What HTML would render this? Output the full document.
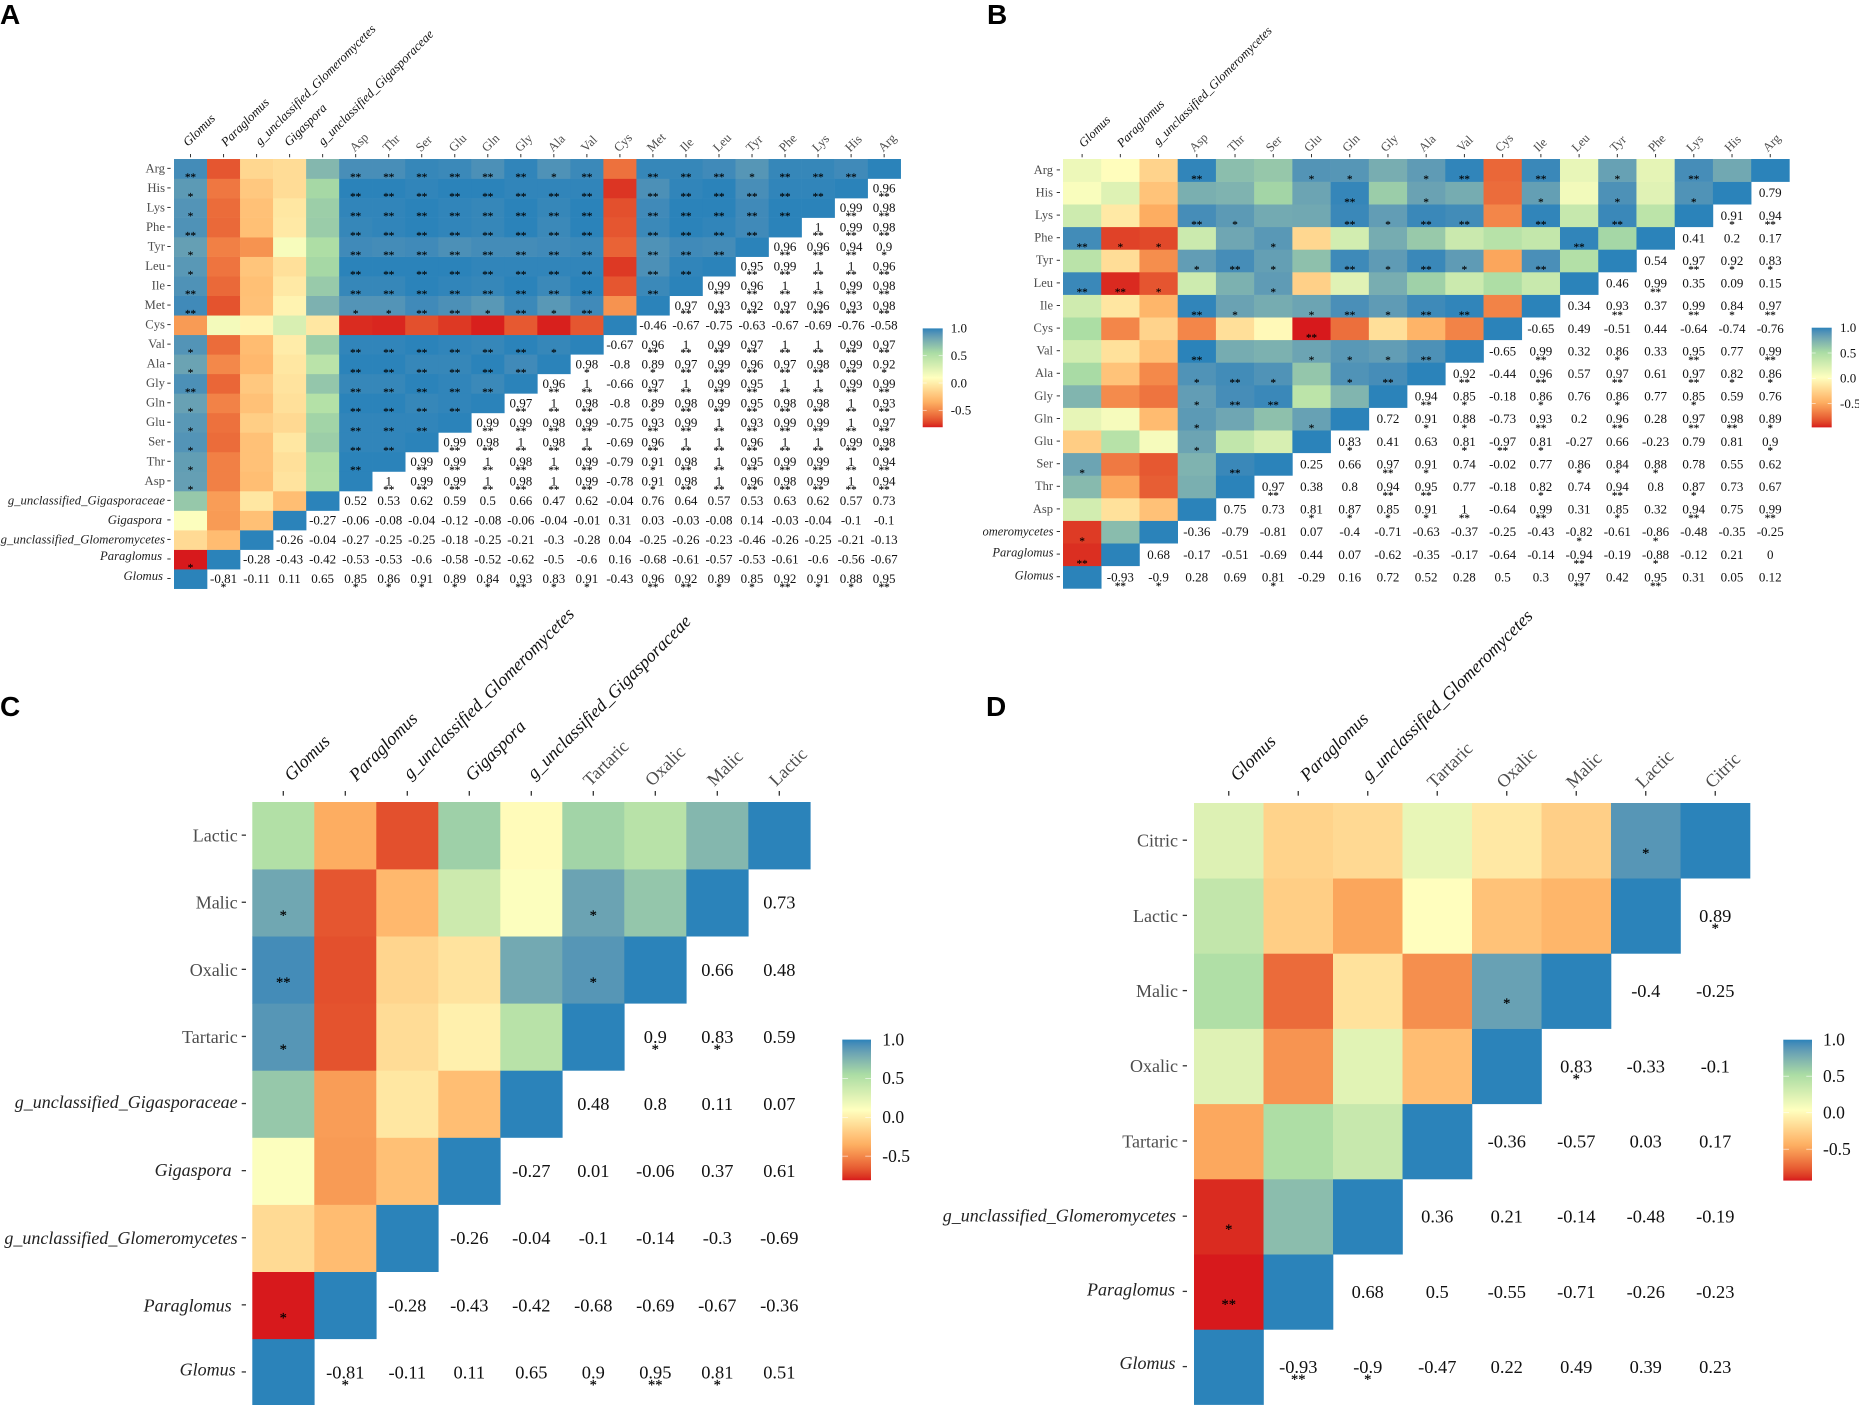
<!DOCTYPE html>
<html lang="en">
<head>
<meta charset="utf-8">
<title>Correlation heatmaps of AMF genera with amino acids and organic acids</title>
<style>
html,body{margin:0;padding:0;background:#fff;width:1859px;height:1405px;overflow:hidden}
svg{display:block}
text{font-family:"Liberation Serif",serif}
.panel-letter{font-family:"Liberation Sans",sans-serif;font-weight:700;fill:#000}
.star{stroke:#000;stroke-width:0.15px;fill:#000}
</style>
</head>
<body>
<svg id="chart" xmlns="http://www.w3.org/2000/svg" width="1859" height="1405" viewBox="0 0 1859 1405"></svg>
<script>
const taxa = ['Glomus','Paraglomus','g_unclassified_Glomeromycetes','Gigaspora','g_unclassified_Gigasporaceae'];
const paletteStops = ['#d7191c','#fdae61','#ffffbf','#abdda4','#2b83ba'];
const legendTicks = [1.0,0.5,0.0,-0.5];
const legendTickLabels = ['1.0','0.5','0.0','-0.5'];

/* Panel A */
const categoriesA = ['Glomus','Paraglomus','g_unclassified_Glomeromycetes','Gigaspora','g_unclassified_Gigasporaceae','Asp','Thr','Ser','Glu','Gln','Gly','Ala','Val','Cys','Met','Ile','Leu','Tyr','Phe','Lys','His','Arg'];
const valuesA = [
[-0.81,-0.11,0.11,0.65,0.85,0.86,0.91,0.89,0.84,0.93,0.83,0.91,-0.43,0.96,0.92,0.89,0.85,0.92,0.91,0.88,0.95],
[-0.28,-0.43,-0.42,-0.53,-0.53,-0.6,-0.58,-0.52,-0.62,-0.5,-0.6,0.16,-0.68,-0.61,-0.57,-0.53,-0.61,-0.6,-0.56,-0.67],
[-0.26,-0.04,-0.27,-0.25,-0.25,-0.18,-0.25,-0.21,-0.3,-0.28,0.04,-0.25,-0.26,-0.23,-0.46,-0.26,-0.25,-0.21,-0.13],
[-0.27,-0.06,-0.08,-0.04,-0.12,-0.08,-0.06,-0.04,-0.01,0.31,0.03,-0.03,-0.08,0.14,-0.03,-0.04,-0.1,-0.1],
[0.52,0.53,0.62,0.59,0.5,0.66,0.47,0.62,-0.04,0.76,0.64,0.57,0.53,0.63,0.62,0.57,0.73],
[1,0.99,0.99,1,0.98,1,0.99,-0.78,0.91,0.98,1,0.96,0.98,0.99,1,0.94],
[0.99,0.99,1,0.98,1,0.99,-0.79,0.91,0.98,1,0.95,0.99,0.99,1,0.94],
[0.99,0.98,1,0.98,1,-0.69,0.96,1,1,0.96,1,1,0.99,0.98],
[0.99,0.99,0.98,0.99,-0.75,0.93,0.99,1,0.93,0.99,0.99,1,0.97],
[0.97,1,0.98,-0.8,0.89,0.98,0.99,0.95,0.98,0.98,1,0.93],
[0.96,1,-0.66,0.97,1,0.99,0.95,1,1,0.99,0.99],
[0.98,-0.8,0.89,0.97,0.99,0.96,0.97,0.98,0.99,0.92],
[-0.67,0.96,1,0.99,0.97,1,1,0.99,0.97],
[-0.46,-0.67,-0.75,-0.63,-0.67,-0.69,-0.76,-0.58],
[0.97,0.93,0.92,0.97,0.96,0.93,0.98],
[0.99,0.96,1,1,0.99,0.98],
[0.95,0.99,1,1,0.96],
[0.96,0.96,0.94,0.9],
[1,0.99,0.98],
[0.99,0.98],
[0.96]
];
const starsA = ['100011111211022112112','','','','','2222222012222222','222222012222222','22222022222222','2222022222222','222012222222','22022222222','1012222221','022222222','','2222222','222222','22222','2221','222','22','2'];

/* Panel B */
const categoriesB = ['Glomus','Paraglomus','g_unclassified_Glomeromycetes','Asp','Thr','Ser','Glu','Gln','Gly','Ala','Val','Cys','Ile','Leu','Tyr','Phe','Lys','His','Arg'];
const valuesB = [
[-0.93,-0.9,0.28,0.69,0.81,-0.29,0.16,0.72,0.52,0.28,0.5,0.3,0.97,0.42,0.95,0.31,0.05,0.12],
[0.68,-0.17,-0.51,-0.69,0.44,0.07,-0.62,-0.35,-0.17,-0.64,-0.14,-0.94,-0.19,-0.88,-0.12,0.21,0],
[-0.36,-0.79,-0.81,0.07,-0.4,-0.71,-0.63,-0.37,-0.25,-0.43,-0.82,-0.61,-0.86,-0.48,-0.35,-0.25],
[0.75,0.73,0.81,0.87,0.85,0.91,1,-0.64,0.99,0.31,0.85,0.32,0.94,0.75,0.99],
[0.97,0.38,0.8,0.94,0.95,0.77,-0.18,0.82,0.74,0.94,0.8,0.87,0.73,0.67],
[0.25,0.66,0.97,0.91,0.74,-0.02,0.77,0.86,0.84,0.88,0.78,0.55,0.62],
[0.83,0.41,0.63,0.81,-0.97,0.81,-0.27,0.66,-0.23,0.79,0.81,0.9],
[0.72,0.91,0.88,-0.73,0.93,0.2,0.96,0.28,0.97,0.98,0.89],
[0.94,0.85,-0.18,0.86,0.76,0.86,0.77,0.85,0.59,0.76],
[0.92,-0.44,0.96,0.57,0.97,0.61,0.97,0.82,0.86],
[-0.65,0.99,0.32,0.86,0.33,0.95,0.77,0.99],
[-0.65,0.49,-0.51,0.44,-0.64,-0.74,-0.76],
[0.34,0.93,0.37,0.99,0.84,0.97],
[0.46,0.99,0.35,0.09,0.15],
[0.54,0.97,0.92,0.83],
[0.41,0.2,0.17],
[0.91,0.94],
[0.79]
];
const starsB = ['210010000000202000','00000000000201000','0000000000101000','001111202010202','20022001020100','0021000111000','100121000001','01102020221','2101010100','202020211','02010202','','020212','02000','0211','','12',''];

/* Panel C */
const categoriesC = ['Glomus','Paraglomus','g_unclassified_Glomeromycetes','Gigaspora','g_unclassified_Gigasporaceae','Tartaric','Oxalic','Malic','Lactic'];
const valuesC = [
[-0.81,-0.11,0.11,0.65,0.9,0.95,0.81,0.51],
[-0.28,-0.43,-0.42,-0.68,-0.69,-0.67,-0.36],
[-0.26,-0.04,-0.1,-0.14,-0.3,-0.69],
[-0.27,0.01,-0.06,0.37,0.61],
[0.48,0.8,0.11,0.07],
[0.9,0.83,0.59],
[0.66,0.48],
[0.73]
];
const starsC = ['10001210','','','','','110','',''];

/* Panel D */
const categoriesD = ['Glomus','Paraglomus','g_unclassified_Glomeromycetes','Tartaric','Oxalic','Malic','Lactic','Citric'];
const valuesD = [
[-0.93,-0.9,-0.47,0.22,0.49,0.39,0.23],
[0.68,0.5,-0.55,-0.71,-0.26,-0.23],
[0.36,0.21,-0.14,-0.48,-0.19],
[-0.36,-0.57,0.03,0.17],
[0.83,-0.33,-0.1],
[-0.4,-0.25],
[0.89]
];
const starsD = ['2100000','','','','100','','1'];

const SVGNS = 'http://www.w3.org/2000/svg';
const root = document.getElementById('chart');

function make(tag, attrs, parent, content) {
  const node = document.createElementNS(SVGNS, tag);
  for (const k in attrs) node.setAttribute(k, attrs[k]);
  if (content !== undefined) node.textContent = content;
  parent.appendChild(node);
  return node;
}
function slug(s) { return String(s).toLowerCase().replace(/[^a-z0-9]+/g, '-'); }

/* Lab colour interpolation, matching a gradient-n palette */
function hexToLab(hex) {
  const c = [1,3,5].map(i => parseInt(hex.substr(i,2),16)/255).map(v => v <= 0.04045 ? v/12.92 : Math.pow((v+0.055)/1.055,2.4));
  const X = (0.4124564*c[0]+0.3575761*c[1]+0.1804375*c[2])/0.95047;
  const Y = (0.2126729*c[0]+0.7151522*c[1]+0.0721750*c[2]);
  const Z = (0.0193339*c[0]+0.1191920*c[1]+0.9503041*c[2])/1.08883;
  const f = t => t > 0.008856 ? Math.cbrt(t) : 7.787*t + 16/116;
  return [116*f(Y)-16, 500*(f(X)-f(Y)), 200*(f(Y)-f(Z))];
}
function labToCss(lab) {
  const fy = (lab[0]+16)/116, fx = lab[1]/500+fy, fz = fy-lab[2]/200;
  const g = t => t*t*t > 0.008856 ? t*t*t : (t-16/116)/7.787;
  const X = g(fx)*0.95047, Y = g(fy), Z = g(fz)*1.08883;
  const rgb = [
    3.2404542*X-1.5371385*Y-0.4985314*Z,
    -0.9692660*X+1.8760108*Y+0.0415560*Z,
    0.0556434*X-0.2040259*Y+1.0572252*Z
  ].map(v => {
    v = Math.max(0, Math.min(1, v));
    v = v <= 0.0031308 ? 12.92*v : 1.055*Math.pow(v,1/2.4)-0.055;
    return Math.round(v*255);
  });
  return 'rgb(' + rgb.join(',') + ')';
}
const paletteLab = paletteStops.map(hexToLab);
function ramp(t) {
  t = Math.max(0, Math.min(1, t));
  const p = t*(paletteLab.length-1);
  const i = Math.min(Math.floor(p), paletteLab.length-2);
  const u = p-i;
  return labToCss(paletteLab[i].map((a,k) => a+(paletteLab[i+1][k]-a)*u));
}

function drawPanel(cfg, categories, values, stars) {
  const n = categories.length;
  const panel = make('g', {}, root);
  
  

  const xScale = j => cfg.left + j*cfg.cw;
  const yScale = i => cfg.top + (n-1-i)*cfg.ch;
  const isTaxon = name => taxa.indexOf(name) >= 0;

  let minValue = 1;
  values.forEach(row => row.forEach(v => { if (v < minValue) minValue = v; }));
  const fill = v => ramp((v-minValue)/(1-minValue));
  const starOf = (i, j) => {
    const s = stars[i] || '';
    return parseInt(s.charAt(j-i-1) || '0', 10);
  };

  const letter = make('text', {x: cfg.letterX, y: cfg.letterY, 'font-size': 28, class: 'panel-letter'}, panel, cfg.letter);
  
  

  /* heat cells: lower-left triangle carries colour */
  const cellsGroup = make('g', {}, panel);
  
  
  for (let i = 0; i < n; i++) {
    for (let j = i; j < n; j++) {
      const v = i === j ? 1 : values[i][j-i-1];
      const cell = make('rect', {x: xScale(i), y: yScale(j), width: cfg.cw+0.3, height: cfg.ch+0.3, fill: fill(v)}, cellsGroup);
      
      
    }
  }

  /* stars and printed values */
  const marks = make('g', {}, panel);
  
  
  for (let i = 0; i < n; i++) {
    for (let j = i+1; j < n; j++) {
      const v = values[i][j-i-1];
      const cxText = xScale(j)+cfg.cw/2;
      const cyText = yScale(i)+cfg.ch/2;
      const label = make('text', {x: cxText, y: cyText+cfg.valueSize*0.33, 'font-size': cfg.valueSize, 'text-anchor': 'middle', fill: '#111'}, marks, String(v));
      
      
      const count = starOf(i, j);
      if (count > 0) {
        const glyph = count === 2 ? '**' : '*';
        const starText = make('text', {x: cxText, y: cyText+cfg.starDy, 'font-size': cfg.starSize, 'text-anchor': 'middle', class: 'star'}, marks, glyph);
        
        
        const starCell = make('text', {x: xScale(i)+cfg.cw/2, y: yScale(j)+cfg.ch/2+cfg.starDy, 'font-size': cfg.starSize, 'text-anchor': 'middle', class: 'star'}, marks, glyph);
        
        
      }
    }
  }

  /* x axis */
  const xAxis = make('g', {}, panel);
  
  
  categories.forEach((name, j) => {
    const cx = xScale(j)+cfg.cw/2;
    const tick = make('line', {x1: cx, x2: cx, y1: cfg.xTickTop, y2: cfg.xTickBottom, stroke: '#333', 'stroke-width': cfg.tickWidth}, xAxis);
    
    
    const tax = isTaxon(name);
    const nudge = cfg.xNudge[name] || [0,0];
    const lx = cx + (tax ? cfg.xItalicDx : cfg.xPlainDx) + nudge[0];
    const ly = (tax ? cfg.xItalicY : cfg.xPlainY) + nudge[1];
    const text = make('text', {x: lx, y: ly, 'font-size': cfg.labelSize, fill: tax ? '#111' : '#4d4d4d', 'font-style': tax ? 'italic' : 'normal', transform: 'rotate(-45 ' + lx + ' ' + ly + ')'}, xAxis, name);
    
    
  });

  /* y axis */
  const yAxis = make('g', {}, panel);
  
  
  if (cfg.clipLeft !== undefined) {
    const cp = make('clipPath', {id: 'clip-' + cfg.id}, panel);
    make('rect', {x: cfg.clipLeft, y: 0, width: 1859, height: 1405}, cp);
    yAxis.setAttribute('clip-path', 'url(#clip-' + cfg.id + ')');
  }
  categories.forEach((name, i) => {
    const cy = yScale(i)+cfg.ch/2;
    const tick = make('line', {x1: cfg.yTickLeft, x2: cfg.yTickRight, y1: cy-0.4, y2: cy-0.4, stroke: '#333', 'stroke-width': cfg.tickWidth}, yAxis);
    
    
    const tax = isTaxon(name);
    const nudge = cfg.yNudge[name] || [0,0];
    const text = make('text', {x: cfg.yLabelRight+nudge[0], y: cy+cfg.labelSize*0.28+cfg.yShift+nudge[1], 'font-size': cfg.labelSize, 'text-anchor': 'end', fill: tax ? '#222' : '#4d4d4d', 'font-style': tax ? 'italic' : 'normal'}, yAxis, name);
    
    
  });

  /* colour bar legend */
  const legend = make('g', {}, panel);
  
  
  const gradId = 'grad-' + cfg.id;
  const defs = make('defs', {}, legend);
  const grad = make('linearGradient', {id: gradId, x1: 0, y1: 1, x2: 0, y2: 0}, defs);
  for (let k = 0; k <= 40; k++) {
    make('stop', {offset: (k/40), 'stop-color': ramp(k/40)}, grad);
  }
  const legendY = v => cfg.legendZero - v*cfg.legendUnit;
  const barTop = legendY(1), barBottom = legendY(minValue);
  const bar = make('rect', {x: cfg.legendX, y: barTop, width: cfg.legendW, height: barBottom-barTop, fill: 'url(#' + gradId + ')'}, legend);
  
  
  legendTicks.forEach((v, k) => {
    const y = legendY(v);
    if (v < 1) {
      const t1 = make('line', {x1: cfg.legendX, x2: cfg.legendX+cfg.legendW/5, y1: y, y2: y, stroke: '#fff', 'stroke-width': 0.7, 'stroke-opacity': 0.8}, legend);
      
      
      const t2 = make('line', {x1: cfg.legendX+cfg.legendW*0.8, x2: cfg.legendX+cfg.legendW, y1: y, y2: y, stroke: '#fff', 'stroke-width': 0.7, 'stroke-opacity': 0.8}, legend);
      
      
    }
    const lab = make('text', {x: cfg.legendLabelX, y: y+cfg.legendFont*0.33, 'font-size': cfg.legendFont, fill: '#111'}, legend, legendTickLabels[k]);
    
    
  });
}

drawPanel({id:'a', letter:'A', letterX:0, letterY:24, left:174, top:159, cw:33.03, ch:19.53,
  valueSize:13, starSize:11, starDy:11.7, labelSize:12.7, tickWidth:1, yShift:0,
  xTickTop:154, xTickBottom:157.3, xItalicDx:-2.5, xItalicY:147, xPlainDx:-1, xPlainY:152.5,
  xNudge:{'Paraglomus':[5,0],'g_unclassified_Glomeromycetes':[6,-1],'Gigaspora':[2,0],'g_unclassified_Gigasporaceae':[3,-1]},
  yTickLeft:167.3, yTickRight:170.6, yLabelRight:165,
  yNudge:{'Glomus':[-2,-2.3],'Paraglomus':[-3,-3],'Gigaspora':[-3,0]},
  legendX:922.7, legendW:20, legendZero:383, legendUnit:54.6, legendLabelX:950.7, legendFont:13
}, categoriesA, valuesA, starsA);

drawPanel({id:'b', letter:'B', letterX:987, letterY:24, left:1063, top:159, cw:38.23, ch:22.6,
  valueSize:13, starSize:11, starDy:12.4, labelSize:12.5, tickWidth:1, yShift:0,
  xTickTop:154, xTickBottom:157.3, xItalicDx:-2.5, xItalicY:148, xPlainDx:-2.5, xPlainY:152.5,
  xNudge:{'Glomus':[4,0],'Paraglomus':[4,0],'g_unclassified_Glomeromycetes':[2,-2]},
  yTickLeft:1056.7, yTickRight:1060, yLabelRight:1053,
  yNudge:{'Glomus':[0.5,-1.3],'Paraglomus':[0.5,-1.3],'g_unclassified_Glomeromycetes':[0.5,0]}, clipLeft:983,
  legendX:1811.7, legendW:20, legendZero:378.3, legendUnit:50.6, legendLabelX:1840, legendFont:13
}, categoriesB, valuesB, starsB);

drawPanel({id:'c', letter:'C', letterX:0, letterY:716, left:252.3, top:802, cw:62, ch:67.1,
  valueSize:18.4, starSize:14.5, starDy:17.1, labelSize:18, tickWidth:1.3, yShift:1,
  xTickTop:791, xTickBottom:795.7, xItalicDx:3, xItalicY:782, xPlainDx:-3, xPlainY:787,
  xNudge:{'Glomus':[5,0],'Paraglomus':[8,0],'g_unclassified_Glomeromycetes':[0,-2],'g_unclassified_Gigasporaceae':[0,-2]},
  yTickLeft:241.7, yTickRight:246, yLabelRight:237.7,
  yNudge:{'Glomus':[-2,-3],'Paraglomus':[-6,0],'Gigaspora':[-6,-1],'g_unclassified_Gigasporaceae':[0,-2]},
  legendX:842.3, legendW:28.7, legendZero:1117.3, legendUnit:77.7, legendLabelX:882.3, legendFont:17.5
}, categoriesC, valuesC, starsC);

drawPanel({id:'d', letter:'D', letterX:986, letterY:716, left:1194, top:803, cw:69.5, ch:75.2,
  valueSize:18.4, starSize:14.5, starDy:17.2, labelSize:18, tickWidth:1.3, yShift:1,
  xTickTop:791, xTickBottom:795.7, xItalicDx:3, xItalicY:782, xPlainDx:-3, xPlainY:789,
  xNudge:{'Glomus':[5.5,0],'Paraglomus':[6,0],'g_unclassified_Glomeromycetes':[-2,0]},
  yTickLeft:1182.7, yTickRight:1187, yLabelRight:1178,
  yNudge:{'Glomus':[-2.5,-3.8],'Paraglomus':[-3,-2.5],'g_unclassified_Glomeromycetes':[-2,-1]},
  legendX:1783.3, legendW:28.7, legendZero:1112.7, legendUnit:73, legendLabelX:1823, legendFont:17.5
}, categoriesD, valuesD, starsD);
</script>
</body>
</html>
